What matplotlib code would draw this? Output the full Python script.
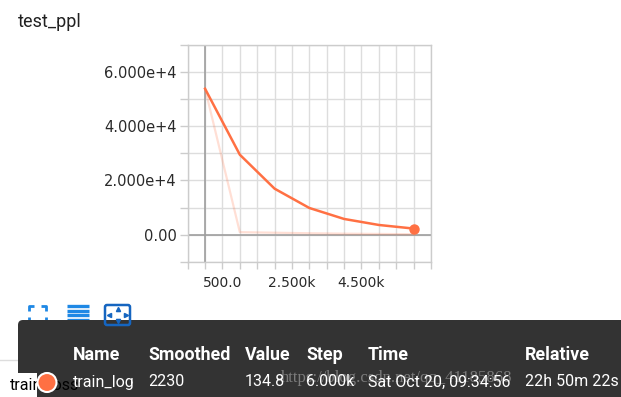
import numpy as np
import matplotlib
matplotlib.use("Agg")
import matplotlib.pyplot as plt
from matplotlib.patches import FancyBboxPatch, Rectangle, Circle
from matplotlib.ticker import FixedLocator, MultipleLocator, NullFormatter

# data
steps = [0, 1000, 2000, 3000, 4000, 5000, 6000]
smoothed = [53840, 29500, 16960, 9830, 5780, 3560, 2230]
raw = [53840, 900, 700, 500, 350, 250, 134.8]
x_ticks = [500, 2500, 4500]
x_labels = ["500.0", "2.500k", "4.500k"]
y_ticks = [0, 20000, 40000, 60000]
y_labels = ["0.00", "2.000e+4", "4.000e+4", "6.000e+4"]

headers = ["Name", "Smoothed", "Value", "Step", "Time", "Relative"]
row = ["train_log", "2230", "134.8", "6.000k", "Sat Oct 20, 09:34:56", "22h 50m 22s"]
col_x = [73, 148, 245, 306, 368, 525]

orange = "#ff7043"
grid_c = "#dddddd"

fig = plt.figure(figsize=(6.21, 3.97), dpi=100)
W, H = 621, 397

# main chart
ax = fig.add_axes([187.7 / W, 1 - 261.7 / H, (431 - 187.7) / W, (261.7 - 45) / H])
ax.plot(steps, raw, color=orange, alpha=0.22, lw=1.6, zorder=3)
ax.plot(steps, smoothed, color=orange, lw=1.8, zorder=4)
ax.plot(steps[-1], smoothed[-1], "o", color=orange, ms=6.5, zorder=5)
ax.axvline(0, color="#9e9e9e", lw=1.2, zorder=2)
ax.axhline(0, color="#9e9e9e", lw=1.2, zorder=2)

ax.set_xlim(-500, 6500)
ax.set_ylim(-10000, 70000)
ax.xaxis.set_major_locator(FixedLocator(x_ticks))
ax.set_xticklabels(x_labels)
ax.xaxis.set_minor_locator(MultipleLocator(500))
ax.yaxis.set_major_locator(FixedLocator(y_ticks))
ax.set_yticklabels(y_labels)
ax.yaxis.set_minor_locator(MultipleLocator(10000))
ax.xaxis.set_minor_formatter(NullFormatter())
ax.yaxis.set_minor_formatter(NullFormatter())
ax.grid(True, which="both", color=grid_c, lw=1, zorder=1)
ax.tick_params(which="both", direction="out", color="#cccccc", width=1,
               labelcolor="#2a2a2a")
ax.tick_params(axis="x", which="both", length=5, pad=5, labelsize=10)
ax.tick_params(axis="y", which="both", length=6, pad=2, labelsize=10.5)
for s in ax.spines.values():
    s.set_color("#cccccc")
    s.set_linewidth(1)
ax.set_axisbelow(True)

# overlay in pixel coords for the rest of the ui
ov = fig.add_axes([0, 0, 1, 1])
ov.set_xlim(0, W)
ov.set_ylim(H, 0)
ov.axis("off")
ov.patch.set_alpha(0)

ov.text(18, 22, "test_ppl", fontsize=13, family="Roboto", color="#212121", va="center")

# toolbar icons
blue = "#1e88e5"
x0, x1, y0, y1, c = 29, 46, 306, 322, 5
for (xa, ya, dx, dy) in [(x0, y0, 1, 1), (x1, y0, -1, 1), (x0, y1, 1, -1), (x1, y1, -1, -1)]:
    ov.plot([xa, xa, xa + dx * c], [ya + dy * c, ya, ya], color=blue, lw=2, solid_capstyle="butt")
for yb in [306, 310.5, 315, 319.5]:
    ov.plot([67, 89], [yb, yb], color=blue, lw=2.4, solid_capstyle="butt")
ov.add_patch(FancyBboxPatch((105, 305), 25, 20, boxstyle="round,pad=0,rounding_size=2",
                            fill=False, ec="#1565c0", lw=1.8, zorder=6))
ov.plot([117.5], [309], marker="^", color="#1565c0", ms=3, zorder=6)
ov.plot([117.5], [321], marker="v", color="#1565c0", ms=3, zorder=6)
ov.plot([109], [315], marker="<", color="#1565c0", ms=3, zorder=6)
ov.plot([126], [315], marker=">", color="#1565c0", ms=3, zorder=6)

# tooltip box
ov.add_patch(FancyBboxPatch((18, 320), 620, 90, boxstyle="round,pad=0,rounding_size=5",
                            fc="#333333", ec="none", zorder=3))
ov.plot([0, 18], [360, 360], color="#dddddd", lw=1, zorder=2)
ov.add_patch(Rectangle((0, 373), 37, 24, fc="white", ec="none", zorder=4))
ov.text(10, 385, "train_loss", fontsize=11.5, family="Roboto", color="black",
        va="center", zorder=5)
ov.add_patch(Circle((47, 382.5), 9.5, fc=orange, ec="white", lw=1.5, zorder=7))

ov.text(281, 378, "https://blog.csdn.net/qq_41185868", fontsize=12,
        family="Liberation Serif", color="#9a9a9a", alpha=0.7, va="center", zorder=5)
for xx, h, v in zip(col_x, headers, row):
    ov.text(xx, 355, h, fontsize=12.8, family="Roboto", weight="bold",
            color="white", va="center", zorder=6)
    ov.text(xx, 382, v, fontsize=11.5, family="Roboto", color="white",
            va="center", zorder=6)

fig.savefig("out.png", dpi=100)
